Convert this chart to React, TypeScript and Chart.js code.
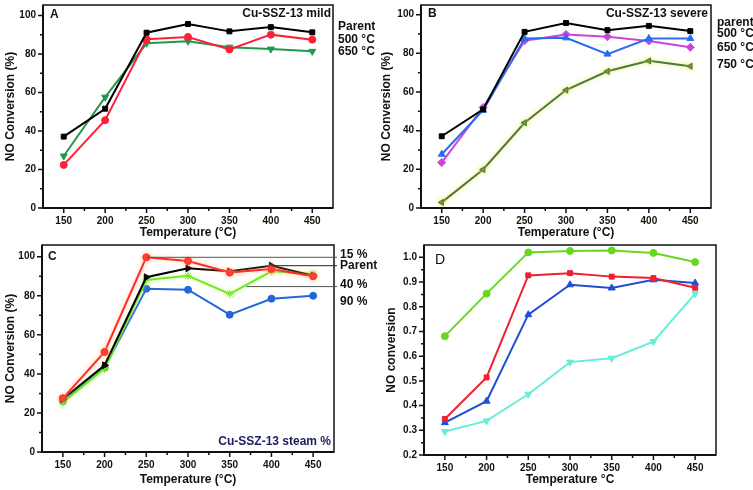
import React, { useEffect, useRef } from "react";
import { Chart, registerables } from "chart.js";
Chart.register(...registerables);

// ---------- data ----------
const temperatures = [150, 200, 250, 300, 350, 400, 450];
const xMinorTicks = [175, 225, 275, 325, 375, 425];
const pctTicks = [0, 20, 40, 60, 80, 100];
const pctMinorTicks = [10, 30, 50, 70, 90];
const fracTicks = [0.2, 0.3, 0.4, 0.5, 0.6, 0.7, 0.8, 0.9, 1.0];
const fracMinorTicks = [0.25, 0.35, 0.45, 0.55, 0.65, 0.75, 0.85, 0.95];

// Panel A: Cu-SSZ-13 mild
const aParent = [37.1, 51.6, 91.1, 95.6, 91.8, 94.0, 91.3];
const a500 = [22.4, 45.6, 87.7, 88.9, 82.4, 90.1, 87.5];
const a650 = [27.0, 57.6, 85.6, 86.7, 83.6, 82.6, 81.4];
const aLabels = ["Parent", "500 °C", "650 °C"];

// Panel B: Cu-SSZ-13 severe
const bParent = [37.1, 51.0, 91.1, 95.7, 92.0, 94.2, 91.5];
const b500 = [27.8, 50.6, 87.7, 88.0, 79.6, 87.7, 87.7];
const b650 = [23.5, 52.0, 86.5, 89.8, 88.6, 86.4, 83.1];
const b750 = [2.9, 19.9, 44.1, 61.0, 70.7, 76.1, 73.3];
const bLabels = ["parent", "500 °C", "650 °C", "750 °C"];

// Panel C: Cu-SSZ-13 steam %
const c15 = [27.5, 51.2, 99.7, 97.8, 91.9, 93.7, 90.0];
const cParent = [27.1, 44.4, 89.5, 94.1, 92.5, 95.4, 90.3];
const c40 = [25.4, 42.7, 88.1, 90.2, 81.0, 92.5, 91.2];
const c90 = [26.1, 43.2, 83.6, 83.1, 70.3, 78.5, 80.0];
const cLabels = ["15 %", "Parent", "40 %", "90 %"];

// Panel D
const dGreen = [0.681, 0.853, 1.02, 1.026, 1.028, 1.018, 0.981];
const dRed = [0.346, 0.514, 0.927, 0.936, 0.922, 0.916, 0.877];
const dBlue = [0.331, 0.418, 0.768, 0.889, 0.876, 0.909, 0.896];
const dCyan = [0.295, 0.338, 0.446, 0.576, 0.592, 0.659, 0.853];

// ---------- styling ----------
const FONT = '"Liberation Sans", Arial, sans-serif';
const bold12 = `bold 12px ${FONT}`;

type Series = { label: string; data: number[]; color: string; style: string; rot?: number; r?: number; glow?: string };
type Txt = { t: string; x: number; y: number; align?: CanvasTextAlign; font?: string; color?: string };
type Conn = { x: number; y: number; toX: number };

type Cfg = {
  left: number; top: number; w: number; h: number;
  area: { l: number; t: number; r: number; b: number };
  yMin: number; yMax: number; yTicks: number[]; yMinor: number[]; yDec: number;
  yTitle: string; yTitlePad: number; xTitle: string; xTitlePad: number;
  series: Series[]; texts: Txt[]; conns?: Conn[];
};

function makeDecor(cfg: Cfg) {
  return {
    id: "decor",
    beforeDatasetDraw(chart: any, args: any) {
      const g = cfg.series[args.index] && cfg.series[args.index].glow;
      if (g) {
        chart.ctx.save();
        chart.ctx.shadowColor = g;
        chart.ctx.shadowBlur = 4;
      }
    },
    afterDatasetDraw(chart: any, args: any) {
      const g = cfg.series[args.index] && cfg.series[args.index].glow;
      if (g) chart.ctx.restore();
    },
    afterDraw(chart: any) {
      const { ctx, chartArea: a, scales } = chart;
      const xs = scales.x, ys = scales.y;
      ctx.save();
      ctx.strokeStyle = "#10101c";
      ctx.lineWidth = 1.5;
      ctx.strokeRect(a.left, a.top, a.right - a.left, a.bottom - a.top);
      ctx.lineWidth = 2;
      ctx.beginPath();
      ctx.moveTo(a.left, a.top);
      ctx.lineTo(a.left, a.bottom);
      ctx.lineTo(a.right, a.bottom);
      ctx.stroke();
      ctx.lineWidth = 1.5;
      ctx.beginPath();
      cfg.yTicks.forEach((v) => {
        const py = ys.getPixelForValue(v);
        ctx.moveTo(a.left - 5, py); ctx.lineTo(a.left, py);
      });
      cfg.yMinor.forEach((v) => {
        const py = ys.getPixelForValue(v);
        ctx.moveTo(a.left - 3, py); ctx.lineTo(a.left, py);
      });
      temperatures.forEach((v) => {
        const px = xs.getPixelForValue(v);
        ctx.moveTo(px, a.bottom); ctx.lineTo(px, a.bottom + 5);
      });
      xMinorTicks.forEach((v) => {
        const px = xs.getPixelForValue(v);
        ctx.moveTo(px, a.bottom); ctx.lineTo(px, a.bottom + 3);
      });
      ctx.stroke();
      (cfg.conns || []).forEach((c, i) => {
        ctx.strokeStyle = i === 1 ? "#222" : "#555";
        ctx.lineWidth = 1;
        const py = ys.getPixelForValue(c.y);
        ctx.beginPath();
        ctx.moveTo(xs.getPixelForValue(c.x), py);
        ctx.lineTo(c.toX, py);
        ctx.stroke();
      });
      ctx.textBaseline = "middle";
      cfg.texts.forEach((t) => {
        ctx.font = t.font || bold12;
        ctx.fillStyle = t.color || "#111";
        ctx.textAlign = t.align || "left";
        ctx.fillText(t.t, t.x, t.y);
      });
      ctx.restore();
    },
  };
}

function Panel({ cfg }: { cfg: Cfg }) {
  const ref = useRef<HTMLCanvasElement | null>(null);
  useEffect(() => {
    const tickFont = { family: FONT, size: 10, weight: "bold" as const };
    const titleFont = { family: FONT, size: 12, weight: "bold" as const };
    const chart = new Chart(ref.current as HTMLCanvasElement, {
      type: "line",
      data: {
        datasets: cfg.series.map((s) => ({
          label: s.label,
          data: s.data.map((v, i) => ({ x: temperatures[i], y: v })),
          borderColor: s.color,
          backgroundColor: s.color,
          pointBackgroundColor: s.color,
          pointBorderColor: s.color,
          pointStyle: s.style as any,
          pointRotation: s.rot || 0,
          pointRadius: s.r || 3.5,
          pointBorderWidth: 1,
          borderWidth: 2,
          tension: 0,
        })),
      },
      options: {
        animation: false,
        responsive: false,
        maintainAspectRatio: false,
        layout: { padding: { left: 0, top: cfg.area.t, right: cfg.w - cfg.area.r, bottom: 0 } },
        plugins: { legend: { display: false }, tooltip: { enabled: false } },
        scales: {
          x: {
            type: "linear",
            min: 125,
            max: 475,
            afterBuildTicks: (s: any) => { s.ticks = temperatures.map((v) => ({ value: v })); },
            afterFit: (s: any) => {
              s.height = cfg.h - cfg.area.b;
              s.paddingLeft = 0; s.paddingRight = 0; s.paddingTop = 0; s.paddingBottom = 0;
            },
            grid: { display: true, drawOnChartArea: false, drawTicks: true, tickLength: 5, color: "rgba(0,0,0,0)" },
            border: { display: false },
            ticks: { padding: 2, font: tickFont, color: "#111", maxRotation: 0, autoSkip: false, callback: (v: any) => String(v) },
            title: { display: true, text: cfg.xTitle, font: titleFont, color: "#111", padding: { top: 0, bottom: cfg.xTitlePad } },
          },
          y: {
            type: "linear",
            min: cfg.yMin,
            max: cfg.yMax,
            afterBuildTicks: (s: any) => { s.ticks = cfg.yTicks.map((v) => ({ value: v })); },
            afterFit: (s: any) => {
              s.width = cfg.area.l;
              s.paddingLeft = 0; s.paddingRight = 0; s.paddingTop = 0; s.paddingBottom = 0;
            },
            grid: { display: true, drawOnChartArea: false, drawTicks: true, tickLength: 5, color: "rgba(0,0,0,0)" },
            border: { display: false },
            ticks: { padding: 2, font: tickFont, color: "#111", autoSkip: false, callback: (v: any) => Number(v).toFixed(cfg.yDec) },
            title: { display: true, text: cfg.yTitle, font: titleFont, color: "#111", padding: { top: cfg.yTitlePad, bottom: 0 } },
          },
        },
      },
      plugins: [makeDecor(cfg)],
    });
    return () => chart.destroy();
  }, []);
  return (
    <canvas
      ref={ref}
      width={cfg.w}
      height={cfg.h}
      style={{ position: "absolute", left: cfg.left, top: cfg.top, width: cfg.w, height: cfg.h }}
    />
  );
}

const panelA: Cfg = {
  left: 0, top: 0, w: 377, h: 240,
  area: { l: 43, t: 4, r: 333, b: 208 },
  yMin: 0, yMax: 105.5, yTicks: pctTicks, yMinor: pctMinorTicks, yDec: 0,
  yTitle: "NO Conversion (%)", yTitlePad: 3, xTitle: "Temperature (°C)", xTitlePad: 0,
  series: [
    { label: aLabels[0], data: aParent, color: "#000000", style: "rect" },
    { label: aLabels[1], data: a500, color: "#ff2038", style: "circle" },
    { label: aLabels[2], data: a650, color: "#1f9a4a", style: "triangle", rot: 180, r: 4 },
  ],
  texts: [
    { t: "A", x: 50, y: 15 },
    { t: "Cu-SSZ-13 mild", x: 331, y: 14, align: "right" },
    { t: aLabels[0], x: 338, y: 27 },
    { t: aLabels[1], x: 338, y: 40 },
    { t: aLabels[2], x: 338, y: 52 },
  ],
};

const panelB: Cfg = {
  left: 377, top: 0, w: 376, h: 240,
  area: { l: 44, t: 3, r: 334, b: 208 },
  yMin: 0, yMax: 105, yTicks: pctTicks, yMinor: pctMinorTicks, yDec: 0,
  yTitle: "NO Conversion (%)", yTitlePad: 2.5, xTitle: "Temperature (°C)", xTitlePad: 0,
  series: [
    { label: bLabels[0], data: bParent, color: "#000000", style: "rect" },
    { label: bLabels[1], data: b500, color: "#2a6cf0", style: "triangle", r: 4 },
    { label: bLabels[2], data: b650, color: "#cc44dd", style: "rectRot", r: 4 },
    { label: bLabels[3], data: b750, color: "#4e7a3a", style: "triangle", rot: 270, r: 3.5, glow: "rgba(235,235,90,0.9)" },
  ],
  texts: [
    { t: "B", x: 51, y: 14 },
    { t: "Cu-SSZ-13 severe", x: 331, y: 14, align: "right" },
    { t: bLabels[0], x: 340, y: 23 },
    { t: bLabels[1], x: 340, y: 34 },
    { t: bLabels[2], x: 340, y: 47.5 },
    { t: bLabels[3], x: 340, y: 65 },
  ],
};

const panelC: Cfg = {
  left: 0, top: 240, w: 377, h: 250,
  area: { l: 42, t: 3, r: 334, b: 212 },
  yMin: 0, yMax: 106, yTicks: pctTicks, yMinor: pctMinorTicks, yDec: 0,
  yTitle: "NO Conversion (%)", yTitlePad: 3, xTitle: "Temperature (°C)", xTitlePad: 3,
  series: [
    { label: cLabels[0], data: c15, color: "#ff2a2a", style: "circle", glow: "rgba(255,190,120,0.8)" },
    { label: cLabels[1], data: cParent, color: "#000000", style: "triangle", rot: 90, r: 4 },
    { label: cLabels[2], data: c40, color: "#66ee22", style: "star", r: 4, glow: "rgba(230,240,130,0.7)" },
    { label: cLabels[3], data: c90, color: "#2266dd", style: "circle" },
  ],
  conns: [
    { x: 250, y: c15[2], toX: 337 },
    { x: 400, y: cParent[5], toX: 337 },
    { x: 370, y: 84.7, toX: 337 },
  ],
  texts: [
    { t: "C", x: 48, y: 17 },
    { t: "Cu-SSZ-13 steam %", x: 331, y: 202, align: "right", color: "#1c1c60" },
    { t: cLabels[0], x: 340, y: 15 },
    { t: cLabels[1], x: 340, y: 26 },
    { t: cLabels[2], x: 340, y: 45 },
    { t: cLabels[3], x: 340, y: 62 },
  ],
};

const panelD: Cfg = {
  left: 377, top: 240, w: 376, h: 250,
  area: { l: 47, t: 5, r: 339, b: 215 },
  yMin: 0.2, yMax: 1.05, yTicks: fracTicks, yMinor: fracMinorTicks, yDec: 1,
  yTitle: "NO conversion", yTitlePad: 7.5, xTitle: "Temperature °C", xTitlePad: 3,
  series: [
    { label: "green", data: dGreen, color: "#66d81e", style: "circle" },
    { label: "red", data: dRed, color: "#ee2030", style: "rect" },
    { label: "blue", data: dBlue, color: "#2050d0", style: "triangle", r: 4 },
    { label: "cyan", data: dCyan, color: "#66eed8", style: "triangle", rot: 180, r: 4 },
  ],
  texts: [{ t: "D", x: 58, y: 20, font: `14px ${FONT}` }],
};

export default function App() {
  return (
    <div style={{ position: "fixed", left: 0, top: 0, width: 753, height: 490, background: "#fff", overflow: "hidden" }}>
      <Panel cfg={panelA} />
      <Panel cfg={panelB} />
      <Panel cfg={panelC} />
      <Panel cfg={panelD} />
    </div>
  );
}
